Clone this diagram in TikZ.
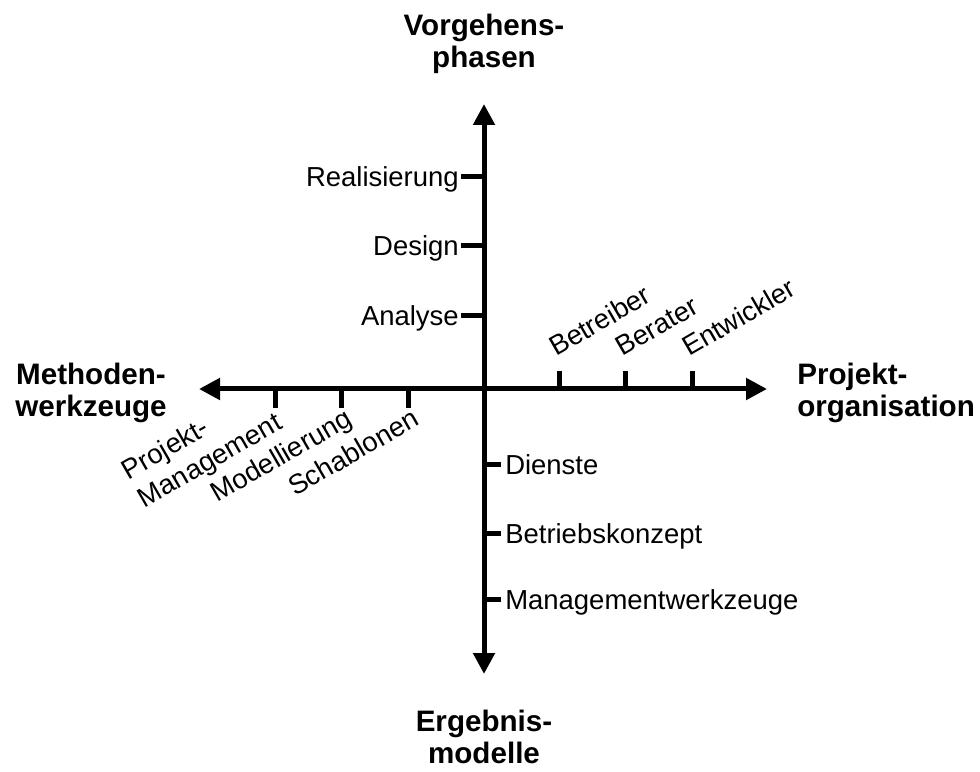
\documentclass[tikz,border=0pt]{standalone}
\usepackage{fontspec}
\setmainfont{Liberation Sans}
\usetikzlibrary{arrows.meta,calc}
\begin{document}
\begin{tikzpicture}[x=0.75pt,y=0.75pt,
  axisline/.style={line width=3.75pt,-{Triangle[length=15.75pt,width=15.75pt]}},
  tickline/.style={line width=3.75pt},
  lbl/.style={inner sep=0pt,font=\fontsize{20.6}{24.75}\selectfont},
  ttl/.style={inner sep=0pt,font=\fontsize{22.2}{24}\selectfont\bfseries}]
\useasboundingbox (0,0) rectangle (980,771);
% axes
\coordinate (O) at (484,382);
\coordinate (top) at (484,667);
\coordinate (bot) at (484,97);
\coordinate (lft) at (199,382);
\coordinate (rgt) at (767,382);
\draw[axisline] (O) -- (top);
\draw[axisline] (O) -- (bot);
\draw[axisline] (O) -- (lft);
\draw[axisline] (O) -- (rgt);
% axis titles
\node[ttl,align=center,anchor=north] (tN) at (484,757) {Vorgehens-\\phasen};
\node[ttl,align=center,anchor=north] (tS) at (484,61) {Ergebnis-\\modelle};
\node[ttl,align=center,anchor=north] (tW) at (91,408) {Methoden-\\werkzeuge};
\node[ttl,align=left,anchor=north west] (tE) at (797,408) {Projekt-\\organisation};
% ticks on the upper half (left side)
\foreach \n/\y/\t in {a/594/Realisierung, b/525/Design, c/455/Analyse}{
  \coordinate (u\n0) at (461,\y);
  \coordinate (u\n1) at (484,\y);
  \draw[tickline] (u\n0) -- (u\n1);
  \node[lbl,anchor=base east] (lu\n) at ($(u\n0)+(-2,-10)$) {\t};
}
% ticks on the lower half (right side)
\foreach \n/\y/\t in {a/306/Dienste, b/238/Betriebskonzept, c/172/Managementwerkzeuge}{
  \coordinate (d\n0) at (484,\y);
  \coordinate (d\n1) at (501,\y);
  \draw[tickline] (d\n0) -- (d\n1);
  \node[lbl,anchor=base west] (ld\n) at ($(d\n1)+(4,-10)$) {\t};
}
% ticks on the right half (above the axis)
\foreach \n/\x/\t in {a/559/Betreiber, b/625/Berater, c/692/Entwickler}{
  \coordinate (r\n0) at (\x,382);
  \coordinate (r\n1) at (\x,400);
  \draw[tickline] (r\n0) -- (r\n1);
  \node[lbl,rotate=30,anchor=base west] (lr\n) at ($(r\n1)+(-3,14)$) {\t};
}
% ticks on the left half (below the axis)
\foreach \n/\x in {a/275, b/341, c/408}{
  \coordinate (l\n0) at (\x,382);
  \coordinate (l\n1) at (\x,363);
  \draw[tickline] (l\n0) -- (l\n1);
}
\node[lbl,rotate=30,align=left,anchor=south east,font=\fontsize{20.6}{24}\selectfont] (lla) at ($(la1)+(12,-25)$) {Projekt-\\Management};
\node[lbl,rotate=30,anchor=base east] (llb) at ($(lb1)+(13,-16)$) {Modellierung};
\node[lbl,rotate=30,anchor=base east] (llc) at ($(lc1)+(13,-16)$) {Schablonen};
\end{tikzpicture}
\end{document}
